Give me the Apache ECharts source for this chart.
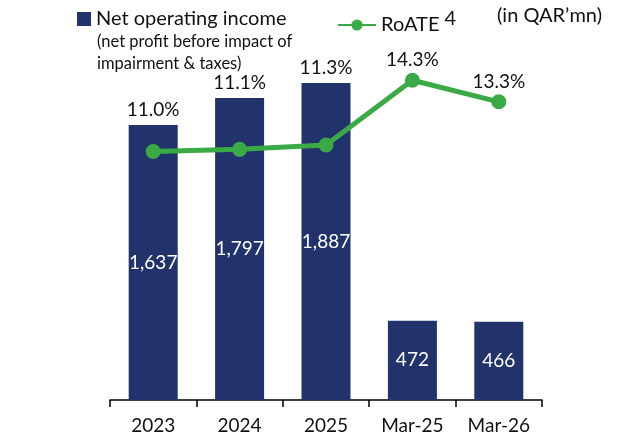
<!DOCTYPE html>
<html>
<head>
<meta charset="utf-8">
<script src="https://cdn.jsdelivr.net/npm/echarts@6/dist/echarts.min.js"></script>
<style>
  html, body { margin: 0; padding: 0; background: #fff; }
  #chart { width: 641px; height: 435px; }
</style>
</head>
<body>
<div id="chart"></div>
<script>
const categories = ['2023', '2024', '2025', 'Mar-25', 'Mar-26']
const netOperatingIncome = [1637, 1797, 1887, 472, 466]
const roate = [11.0, 11.1, 11.3, 14.3, 13.3]
// first three rate labels sit above the bars, the last two above the points
const rateOnBar = [true, true, true, false, false]

const font = 'Lato, "Open Sans", sans-serif'
const navy = '#22336B'
const green = '#3AAA46'

const chart = echarts.init(document.getElementById('chart'))

const option = {
  animation: false,
  textStyle: { fontFamily: font },
  grid: { left: 110, right: 99, top: 64, bottom: 35 },
  legend: [
    {
      data: [{ name: 'Net operating income', icon: 'rect' }],
      left: 72, top: 4,
      itemWidth: 14, itemHeight: 14,
      textStyle: { fontFamily: font, fontSize: 20, color: '#111' }
    },
    {
      data: ['RoATE'],
      left: 332, top: 4,
      itemWidth: 38, itemHeight: 14,
      formatter: name => name + ' {sup|4}',
      textStyle: {
        fontFamily: font, fontSize: 20, color: '#111',
        rich: { sup: { fontFamily: font, fontSize: 20, color: '#111', padding: [0, 0, 12, 0] } }
      }
    }
  ],
  graphic: [
    { type: 'text', left: 97, top: 33, style: { text: '(net profit before impact of', font: '16.5px ' + font, fill: '#111' } },
    { type: 'text', left: 97, top: 55, style: { text: 'impairment & taxes)', font: '16.5px ' + font, fill: '#111' } },
    { type: 'text', left: 497, top: 6, style: { text: '(in QAR\u2019mn)', font: '20px ' + font, fill: '#111' } }
  ],
  xAxis: {
    type: 'category',
    data: categories,
    axisLine: { lineStyle: { color: '#000', width: 1.5 } },
    axisTick: { show: true, length: 7, lineStyle: { color: '#000', width: 1.5 } },
    axisLabel: { color: '#111', fontSize: 19, fontFamily: font, margin: 16 }
  },
  yAxis: [
    { type: 'value', min: 0, max: 2000, show: false, splitLine: { show: false } },
    { type: 'value', min: -0.5, max: 15.05, show: false, splitLine: { show: false } }
  ],
  series: [
    {
      name: 'Net operating income',
      type: 'bar',
      data: netOperatingIncome,
      barWidth: 49,
      itemStyle: { color: navy },
      label: {
        show: true,
        position: 'inside',
        color: '#fff',
        fontSize: 19,
        fontFamily: font,
        formatter: p => p.value.toLocaleString('en-US')
      },
      z: 2
    },
    {
      name: 'rateLabels',
      type: 'bar',
      data: netOperatingIncome,
      barWidth: 49,
      barGap: '-100%',
      itemStyle: { color: 'transparent' },
      silent: true,
      label: {
        show: true,
        position: 'top',
        distance: 6,
        color: '#111',
        fontSize: 19,
        fontFamily: font,
        formatter: p => rateOnBar[p.dataIndex] ? roate[p.dataIndex].toFixed(1) + '%' : ''
      },
      z: 1
    },
    {
      name: 'RoATE',
      type: 'line',
      yAxisIndex: 1,
      data: roate,
      symbol: 'circle',
      symbolSize: 15,
      lineStyle: { color: green, width: 5 },
      itemStyle: { color: green },
      label: {
        show: true,
        position: 'top',
        distance: 3,
        color: '#111',
        fontSize: 19,
        fontFamily: font,
        formatter: p => rateOnBar[p.dataIndex] ? '' : p.value.toFixed(1) + '%'
      },
      z: 3
    }
  ]
}

chart.setOption(option)
</script>
</body>
</html>
